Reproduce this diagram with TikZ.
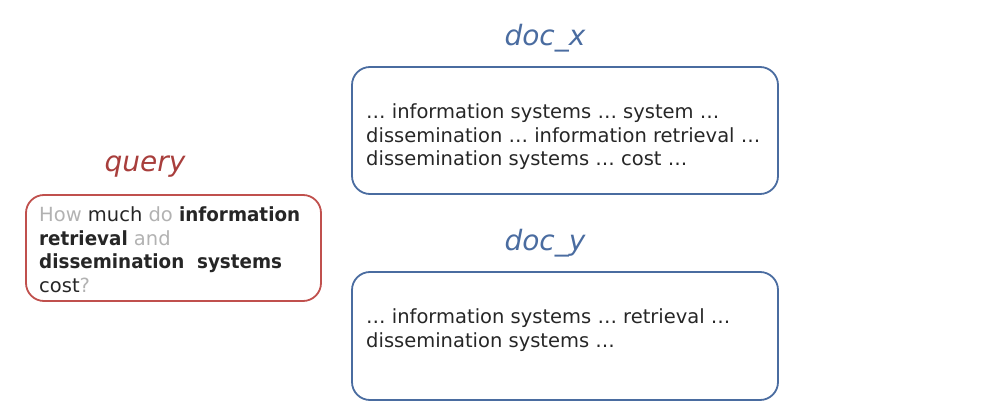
\documentclass[tikz,border=0pt]{standalone}
\usepackage{fontspec}
\setmainfont{DejaVu Sans}[BoldFeatures={FakeStretch=0.94}]
\definecolor{qred}{RGB}{192,80,77}
\definecolor{qlab}{RGB}{168,62,60}
\definecolor{dblue}{RGB}{74,108,160}
\definecolor{txt}{RGB}{38,38,38}
\definecolor{lgray}{RGB}{178,178,178}
\newcommand{\gw}[1]{\textcolor{lgray}{#1}}
\begin{document}
\begin{tikzpicture}[x=1pt,y=-1pt,
  box/.style={draw, line width=1.8pt, rounded corners=18pt},
  qbox/.style={box, draw=qred},
  dbox/.style={box, draw=dblue},
  lbl/.style={font=\fontsize{28}{32}\selectfont\itshape, inner sep=0pt, anchor=base},
  line/.style={font=\fontsize{19.5}{23}\selectfont, text=txt, inner sep=0pt, anchor=base west}]
\useasboundingbox (0,0) rectangle (985,414);
% query
\node[lbl, text=qlab] (ql) at (145,172) {query};
\draw[qbox] (26,195) rectangle (321,301);
\node[line] (q1) at (39,222) {\gw{How} much \gw{do} \textbf{information}};
\node[line] (q2) at (39,245) {\textbf{retrieval} \gw{and}};
\node[line] (q3) at (39,268) {\textbf{dissemination\ \ systems}};
\node[line] (q4) at (39,292) {cost\gw{?}};
% doc_x
\node[lbl, text=dblue] (xl) at (545,46) {doc\_x};
\draw[dbox] (352,67) rectangle (778,194);
\node[line] (x1) at (366,119) {… information systems … system …};
\node[line] (x2) at (366,143) {dissemination … information retrieval …};
\node[line] (x3) at (366,166) {dissemination systems … cost …};
% doc_y
\node[lbl, text=dblue] (yl) at (545,250) {doc\_y};
\draw[dbox] (352,272) rectangle (778,400);
\node[line] (y1) at (366,323) {… information systems … retrieval …};
\node[line] (y2) at (366,347) {dissemination systems …};
\end{tikzpicture}
\end{document}
